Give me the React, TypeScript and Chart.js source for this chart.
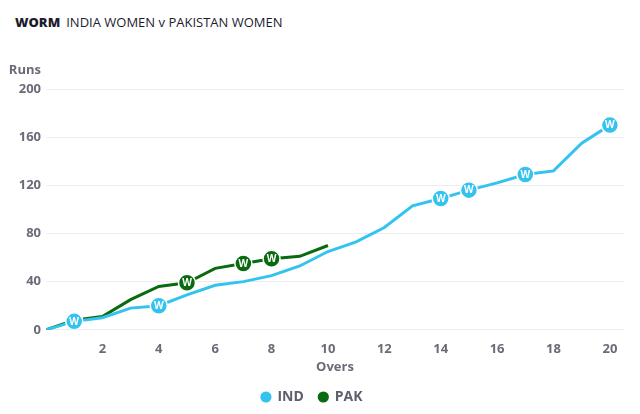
import React, { useEffect, useRef } from "react";
import { Chart, registerables } from "chart.js";

Chart.register(...registerables);

const overs = [0, 1, 2, 3, 4, 5, 6, 7, 8, 9, 10, 11, 12, 13, 14, 15, 16, 17, 18, 19, 20];
const indRuns = [0, 7, 10, 18, 20, 29, 37, 40, 45, 53, 65, 73, 85, 103, 109, 116, 122, 129, 132, 155, 170];
const pakRuns = [0, 8, 11, 25, 36, 39, 51, 55, 59, 61, 70];
const indWickets = [1, 4, 14, 15, 17, 20];
const pakWickets = [5, 7, 8];
const xTicks = [2, 4, 6, 8, 10, 12, 14, 16, 18, 20];
const yTicks = [0, 40, 80, 120, 160, 200];

const IND_COLOR = "#33c3ee";
const PAK_COLOR = "#0a6a0e";
const FONT = "'Open Sans', sans-serif";

const wicketText = {
  id: "wicketText",
  afterDatasetsDraw(chart: any) {
    const ctx = chart.ctx;
    ctx.save();
    ctx.font = `bold 10px ${FONT}`;
    ctx.fillStyle = "#ffffff";
    ctx.textAlign = "center";
    ctx.textBaseline = "middle";
    const sets = [indWickets, pakWickets];
    for (let d = chart.data.datasets.length - 1; d >= 0; d--) {
      const meta = chart.getDatasetMeta(d);
      const wk = sets[d];
      meta.data.forEach((pt: any, i: number) => {
        const ov = overs[i];
        if (wk.includes(ov)) {
          ctx.fillText("W", pt.x, pt.y + 0.5);
        }
      });
    }
    ctx.restore();
  },
};

const runsLabel = {
  id: "runsLabel",
  afterDraw(chart: any) {
    const ctx = chart.ctx;
    const y = chart.scales.y;
    ctx.save();
    ctx.font = `bold 13px ${FONT}`;
    ctx.fillStyle = "#6b6b78";
    ctx.textAlign = "right";
    ctx.textBaseline = "middle";
    ctx.fillText("Runs", y.right - 5, chart.chartArea.top - 19);
    ctx.restore();
  },
};

export default function App() {
  const ref = useRef<HTMLCanvasElement>(null);
  useEffect(() => {
    document.body.style.margin = "0";
    const mk = (runs: number[]) => runs.map((r, i) => ({ x: overs[i], y: r }));
    const radii = (runs: number[], wk: number[]) =>
      runs.map((_, i) => (wk.includes(overs[i]) ? 8.5 : 0));
    const chart = new Chart(ref.current!, {
      type: "line",
      data: {
        datasets: [
          {
            label: "IND",
            data: mk(indRuns),
            borderColor: IND_COLOR,
            backgroundColor: IND_COLOR,
            borderWidth: 3,
            pointRadius: radii(indRuns, indWickets),
            pointBackgroundColor: IND_COLOR,
            pointBorderColor: "#ffffff",
            pointBorderWidth: 1.5,
            tension: 0,
          },
          {
            label: "PAK",
            data: mk(pakRuns),
            borderColor: PAK_COLOR,
            backgroundColor: PAK_COLOR,
            borderWidth: 3,
            pointRadius: radii(pakRuns, pakWickets),
            pointBackgroundColor: PAK_COLOR,
            pointBorderColor: "#ffffff",
            pointBorderWidth: 1.5,
            tension: 0,
          },
        ],
      },
      options: {
        animation: false,
        responsive: false,
        maintainAspectRatio: false,
        layout: { padding: { top: 89, right: 16, left: 0, bottom: 0 } },
        plugins: {
          tooltip: { enabled: false },
          legend: {
            position: "bottom",
            labels: {
              usePointStyle: true,
              pointStyle: "circle",
              boxWidth: 9,
              boxHeight: 9,
              padding: 15,
              color: "#5e5e6c",
              font: { family: FONT, size: 14, weight: "bold" },
            },
          },
        },
        scales: {
          x: {
            type: "linear",
            min: 0,
            max: 20.5,
            afterBuildTicks: (s: any) => {
              s.ticks = xTicks.map((v) => ({ value: v }));
            },
            grid: { display: false, drawTicks: false },
            border: { display: false },
            ticks: {
              color: "#6b6b78",
              padding: 12,
              maxRotation: 0,
              font: { family: FONT, size: 13, weight: "bold" },
            },
            title: {
              display: true,
              text: "Overs",
              color: "#6b6b78",
              padding: { top: -10, bottom: 0 },
              font: { family: FONT, size: 13, weight: "bold" },
            },
          },
          y: {
            min: 0,
            max: 200,
            afterBuildTicks: (s: any) => {
              s.ticks = yTicks.map((v) => ({ value: v }));
            },
            afterFit: (s: any) => {
              s.width = 46;
            },
            grid: { color: "#ececf0", drawTicks: false, lineWidth: 1 },
            border: { display: false },
            ticks: {
              color: "#6b6b78",
              padding: 5,
              font: { family: FONT, size: 13, weight: "bold" },
            },
          },
        },
      },
      plugins: [wicketText, runsLabel],
    });
    return () => chart.destroy();
  }, []);
  return (
    <div style={{ position: "relative", width: 640, height: 414, background: "#fff" }}>
      <div
        style={{
          position: "absolute",
          left: 15,
          top: 13,
          fontFamily: FONT,
          fontSize: 13,
          color: "#1c1c2e",
          whiteSpace: "nowrap",
        }}
      >
        <span style={{ fontWeight: 800 }}>WORM</span>
        <span style={{ marginLeft: 6 }}>INDIA WOMEN v PAKISTAN WOMEN</span>
      </div>
      <canvas ref={ref} width={640} height={414} style={{ position: "absolute", left: 0, top: 0 }} />
    </div>
  );
}
